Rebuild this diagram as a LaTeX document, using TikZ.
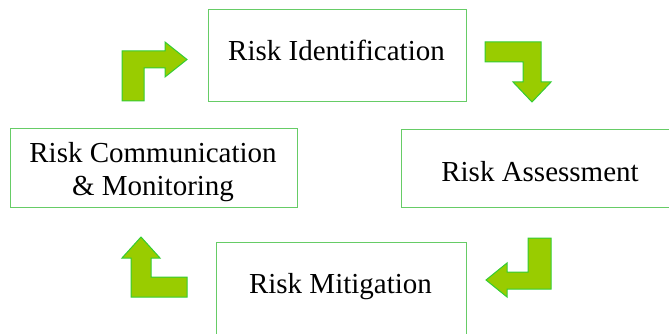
\documentclass[tikz,border=0pt]{standalone}
\usepackage{fontspec}
\setmainfont{Liberation Serif}
\definecolor{boxline}{HTML}{66CC66}
\definecolor{arrfill}{HTML}{99CC00}
\definecolor{arrline}{HTML}{33CC33}
\begin{document}
\begin{tikzpicture}[x=1pt,y=-1pt,
  stagebox/.style={draw=boxline,line width=0.8pt},
  stagetext/.style={inner sep=0pt,font=\fontsize{29}{33}\selectfont,align=center,anchor=base},
  bentarrow/.style={fill=arrfill,draw=arrline,line width=1pt,line join=miter}]
\useasboundingbox (0,0) rectangle (669,334);
% boxes
\draw[stagebox] (208,9) rectangle (466,101);
\draw[stagebox] (401,129) rectangle (675,207);
\draw[stagebox] (216,242) rectangle (466,340);
\draw[stagebox] (10,128) rectangle (297,207);
% texts
\node[stagetext] (ident) at (336.5,61) {Risk Identification};
\node[stagetext] (assess) at (540,181) {Risk Assessment};
\node[stagetext] (mitig) at (340.5,293) {Risk Mitigation};
\node[stagetext] (comm) at (153,195) {Risk Communication\\\& Monitoring};
% arrows
\draw[bentarrow] (122,101) -- (122,51) -- (165,51) -- (165,42) -- (187,59.5) -- (165,77) -- (165,68) -- (144,68) -- (144,101) -- cycle;
\draw[bentarrow] (485,42) -- (541,42) -- (541,82) -- (551,82) -- (532,102) -- (513,82) -- (523,82) -- (523,62) -- (485,62) -- cycle;
\draw[bentarrow] (551,238) -- (551,289) -- (507,289) -- (507,297) -- (486,280) -- (507,263) -- (507,272) -- (528,272) -- (528,238) -- cycle;
\draw[bentarrow] (187,297) -- (131,297) -- (131,258) -- (122,258) -- (141,237) -- (160,258) -- (151,258) -- (151,277) -- (187,277) -- cycle;
\end{tikzpicture}
\end{document}
